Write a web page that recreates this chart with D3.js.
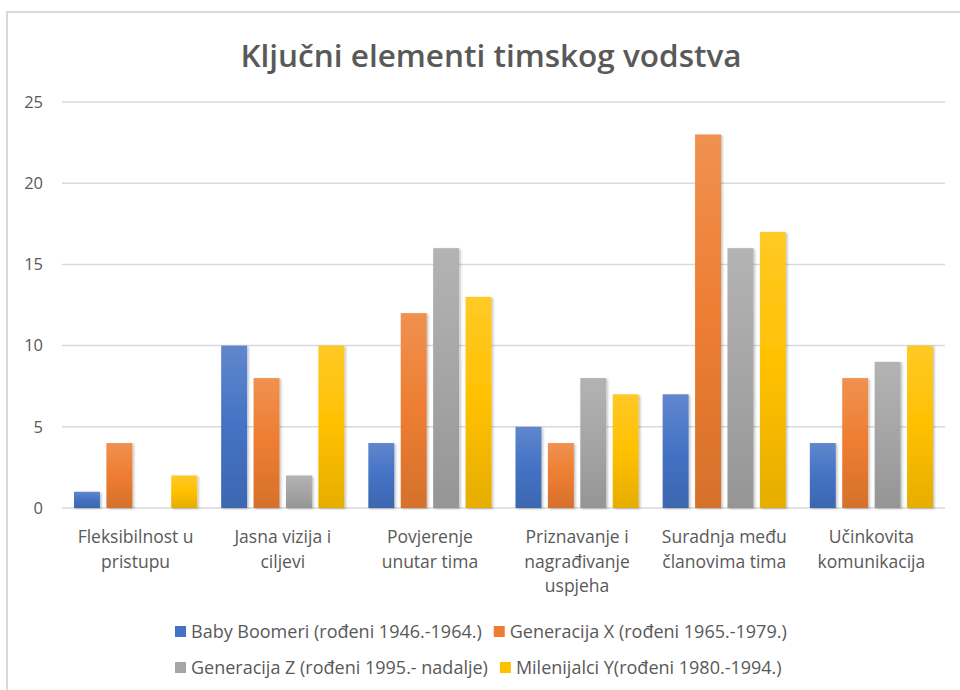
<!DOCTYPE html>
<html>
<head>
<meta charset="utf-8">
<script src="https://cdn.jsdelivr.net/npm/d3@7"></script>
<style>
  body { margin: 0; background: #fff; }
  svg text { font-family: "Open Sans", "Noto Sans", sans-serif; fill: #595959; }
</style>
</head>
<body>
<svg id="chart" width="960" height="690"></svg>
<script>
const TITLE = 'Ključni elementi timskog vodstva';
const CATEGORIES = [
    ['Fleksibilnost u', 'pristupu'],
    ['Jasna vizija i', 'ciljevi'],
    ['Povjerenje', 'unutar tima'],
    ['Priznavanje i', 'nagrađivanje', 'uspjeha'],
    ['Suradnja među', 'članovima tima'],
    ['Učinkovita', 'komunikacija']
];
const SERIES = [
    'Baby Boomeri (rođeni 1946.-1964.)',
    'Generacija X (rođeni 1965.-1979.)',
    'Generacija Z (rođeni 1995.- nadalje)',
    'Milenijalci Y(rođeni 1980.-1994.)'
];
const BOOMERS = [1, 10, 4, 5, 7, 4];
const GEN_X = [4, 8, 12, 4, 23, 8];
const GEN_Z = [0, 2, 16, 8, 16, 9];
const MILLENNIALS = [2, 10, 13, 7, 17, 10];
const Y_TICKS = [0, 5, 10, 15, 20, 25];

const COLORS = ['#4472c4', '#ed7d31', '#a5a5a5', '#ffc000'];
const values = [BOOMERS, GEN_X, GEN_Z, MILLENNIALS];

const svg = d3.select('#chart');
const margin = {left: 62, right: 15, top: 102, bottom: 182};
const width = 960 - margin.left - margin.right;
const height = 690 - margin.top - margin.bottom;

// gradients, lighter at top, darker at bottom like the office style
const defs = svg.append('defs');
COLORS.forEach((c, i) => {
    const g = defs.append('linearGradient')
        .attr('id', 'grad' + i)
        .attr('x1', 0).attr('y1', 0).attr('x2', 0).attr('y2', 1);
    g.append('stop').attr('offset', '0%').attr('stop-color', d3.interpolateRgb(c, '#fff')(0.15));
    g.append('stop').attr('offset', '50%').attr('stop-color', c);
    g.append('stop').attr('offset', '100%').attr('stop-color', d3.interpolateRgb(c, '#000')(0.1));
});
const shadow = defs.append('filter').attr('id', 'shadow')
    .attr('x', '-20%').attr('y', '-5%').attr('width', '150%').attr('height', '115%');
shadow.append('feDropShadow')
    .attr('dx', 1.5).attr('dy', 1).attr('stdDeviation', 1.2)
    .attr('flood-color', '#000').attr('flood-opacity', 0.25);

// chart frame
svg.append('path')
    .attr('d', 'M7,690 V12 H960')
    .attr('fill', 'none')
    .attr('stroke', '#d9d9d9')
    .attr('stroke-width', 2);

svg.append('text')
    .attr('x', 491)
    .attr('y', 67)
    .attr('text-anchor', 'middle')
    .attr('font-size', 31.5)
    .attr('font-weight', 600)
    .text(TITLE);

const g = svg.append('g').attr('transform', `translate(${margin.left},${margin.top})`);

const x0 = d3.scaleBand()
    .domain(d3.range(CATEGORIES.length))
    .range([0, width])
    .paddingInner(0)
    .paddingOuter(0);
const x1 = d3.scaleBand()
    .domain(d3.range(SERIES.length))
    .range([12, x0.bandwidth() - 12])
    .paddingInner(0.2);
const y = d3.scaleLinear().domain([0, 25]).range([height, 0]);

// gridlines
g.append('g')
    .selectAll('line')
    .data(Y_TICKS)
    .join('line')
    .attr('x1', 0).attr('x2', width)
    .attr('y1', d => y(d)).attr('y2', d => y(d))
    .attr('stroke', '#d9d9d9')
    .attr('stroke-width', 1.5);

const yAxis = g.append('g')
    .call(d3.axisLeft(y).tickValues(Y_TICKS).tickSize(0).tickPadding(19));
yAxis.select('.domain').remove();
yAxis.selectAll('text')
    .attr('font-size', 16.5)
    .attr('fill', '#595959')
    .style('font-family', '"Open Sans", sans-serif');

// bars
const groups = g.selectAll('.grp')
    .data(CATEGORIES)
    .join('g')
    .attr('class', 'grp')
    .attr('transform', (d, i) => `translate(${x0(i)},0)`);

groups.selectAll('rect')
    .data((d, i) => values.map((s, j) => ({s: j, v: s[i]})))
    .join('rect')
    .filter(d => d.v > 0)
    .attr('x', d => x1(d.s))
    .attr('width', x1.bandwidth())
    .attr('y', d => y(d.v))
    .attr('height', d => height - y(d.v))
    .attr('fill', d => `url(#grad${d.s})`)
    .attr('filter', 'url(#shadow)');

// category labels
groups.append('text')
    .attr('text-anchor', 'middle')
    .attr('font-size', 17.5)
    .selectAll('tspan')
    .data(d => d)
    .join('tspan')
    .attr('x', x0.bandwidth() / 2)
    .attr('y', (d, i) => height + 35 + i * 24.5)
    .text(d => d);

// legend
const legendRows = [[0, 1], [2, 3]];
const legend = svg.append('g');
legendRows.forEach((row, r) => {
    let lx = 175;
    const ly = 638 + r * 36;
    row.forEach(si => {
        legend.append('rect')
            .attr('x', lx).attr('y', ly - 12)
            .attr('width', 11).attr('height', 11)
            .attr('fill', COLORS[si]);
        const t = legend.append('text')
            .attr('x', lx + 16).attr('y', ly)
            .attr('font-size', 18)
            .text(SERIES[si]);
        lx += 16 + t.node().getComputedTextLength() + 12;
    });
});
</script>
</body>
</html>
